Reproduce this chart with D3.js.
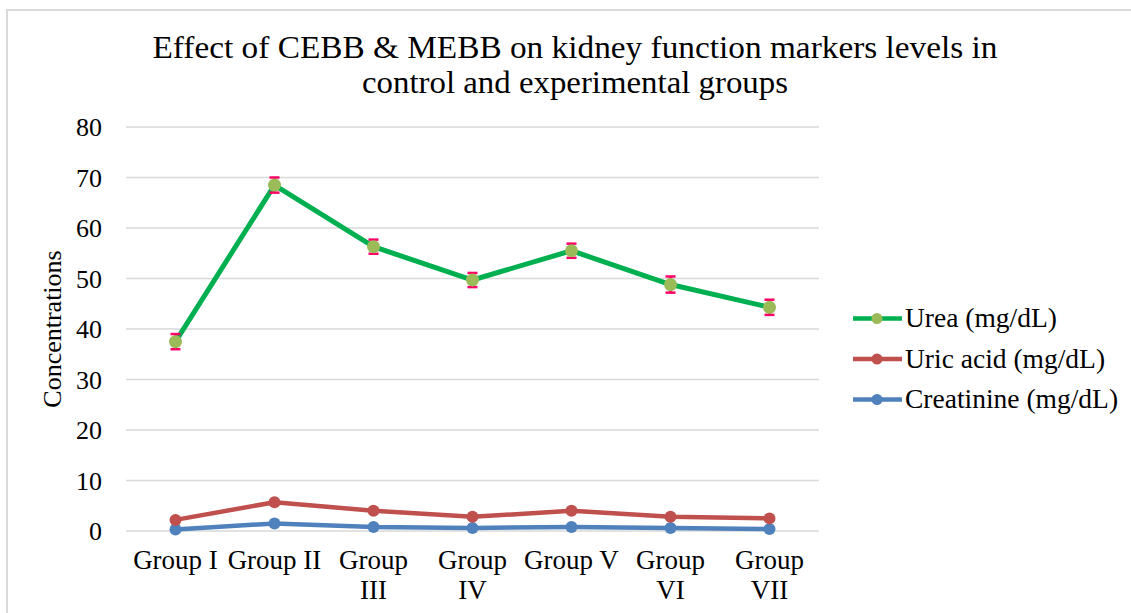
<!DOCTYPE html>
<html><head><meta charset="utf-8">
<script src="https://cdn.jsdelivr.net/npm/d3@7"></script>
<style>body{margin:0;background:#fff}svg{display:block}text{font-family:"Liberation Serif","Times New Roman",serif;fill:#000}</style>
</head><body><svg id="c" width="1131" height="613"></svg>
<script>
const categories = ["Group I","Group II","Group III","Group IV","Group V","Group VI","Group VII"];
const categoryLines = [["Group I"],["Group II"],["Group","III"],["Group","IV"],["Group V"],["Group","VI"],["Group","VII"]];
const urea = [37.5,68.5,56.3,49.7,55.5,48.8,44.3];
const ureaErr = [1.5,1.5,1.4,1.4,1.4,1.6,1.5];
const uricAcid = [2.2,5.7,4.0,2.8,4.0,2.8,2.5];
const creatinine = [0.3,1.5,0.8,0.6,0.8,0.6,0.4];
const yTicks = [0,10,20,30,40,50,60,70,80];
const seriesNames = ["Urea (mg/dL)","Uric acid (mg/dL)","Creatinine (mg/dL)"];

const svg = d3.select("#c");
// outer frame (only top and left visible)
svg.append("rect").attr("x",7).attr("y",10).attr("width",1200).attr("height",700)
  .attr("fill","none").attr("stroke","#D9D9D9").attr("stroke-width",2);

const x = d3.scaleBand().domain(categories).range([126,819]);
const y = d3.scaleLinear().domain([0,80]).range([531,127]);

// gridlines
svg.append("g").selectAll("line").data(yTicks).join("line")
  .attr("x1",126).attr("x2",819).attr("y1",d=>y(d)).attr("y2",d=>y(d))
  .attr("stroke","#D9D9D9").attr("stroke-width",1.5);

// y tick labels
svg.append("g").selectAll("text").data(yTicks).join("text")
  .attr("x",102).attr("y",d=>y(d)+9).attr("text-anchor","end")
  .style("font-size","26px").text(d=>d);

// y axis title
svg.append("text").attr("transform","translate(61,329) rotate(-90)")
  .attr("text-anchor","middle").style("font-size","26px").text("Concentrations");

// x labels
const xl = svg.append("g").selectAll("text").data(categories).join("text")
  .attr("text-anchor","middle").style("font-size","27px");
xl.each(function(d,i){
  const t = d3.select(this);
  categoryLines[i].forEach((ln,j)=>{
    t.append("tspan").attr("x",x(d)+x.bandwidth()/2).attr("y",569+j*30).text(ln);
  });
});

// title
svg.append("text").attr("x",575).attr("y",58).attr("text-anchor","middle")
  .style("font-size","31px").attr("textLength",845).attr("lengthAdjust","spacingAndGlyphs")
  .text("Effect of CEBB & MEBB on kidney function markers levels in");
svg.append("text").attr("x",575).attr("y",93).attr("text-anchor","middle")
  .style("font-size","31px").attr("textLength",426).attr("lengthAdjust","spacingAndGlyphs")
  .text("control and experimental groups");

const cx = d => x(d)+x.bandwidth()/2;
const line = d3.line().x((d,i)=>cx(categories[i])).y(d=>y(d));

const series = [
  {vals:creatinine, line:"#4F81BD", mk:"#4F81BD", w:4.5, r:6},
  {vals:uricAcid, line:"#C0504D", mk:"#C0504D", w:4.5, r:6},
  {vals:urea, line:"#00B050", mk:"#9BBB59", w:5, r:6.5},
];
series.forEach((s,si)=>{
  svg.append("path").datum(s.vals).attr("d",line).attr("fill","none")
    .attr("stroke",s.line).attr("stroke-width",s.w).attr("stroke-linejoin","round");
  if(s.vals===urea){
    const eg = svg.append("g").attr("stroke","#FF0066").attr("stroke-width",2.5);
    urea.forEach((v,i)=>{
      const X = cx(categories[i]);
      eg.append("line").attr("x1",X).attr("x2",X).attr("y1",y(v+ureaErr[i])).attr("y2",y(v-ureaErr[i]));
      eg.append("line").attr("x1",X-5).attr("x2",X+5).attr("y1",y(v+ureaErr[i])).attr("y2",y(v+ureaErr[i]));
      eg.append("line").attr("x1",X-5).attr("x2",X+5).attr("y1",y(v-ureaErr[i])).attr("y2",y(v-ureaErr[i]));
    });
  }
  svg.append("g").selectAll("circle").data(s.vals).join("circle")
    .attr("cx",(d,i)=>cx(categories[i])).attr("cy",d=>y(d)).attr("r",s.r).attr("fill",s.mk);
});

// legend
const leg = [
  {name:seriesNames[0], line:"#00B050", mk:"#9BBB59"},
  {name:seriesNames[1], line:"#C0504D", mk:"#C0504D"},
  {name:seriesNames[2], line:"#4F81BD", mk:"#4F81BD"},
];
const lg = svg.append("g");
leg.forEach((l,i)=>{
  const yy = 318.5 + i*40.5;
  lg.append("line").attr("x1",853).attr("x2",902).attr("y1",yy).attr("y2",yy)
    .attr("stroke",l.line).attr("stroke-width",4.5);
  lg.append("circle").attr("cx",877).attr("cy",yy).attr("r",5.5).attr("fill",l.mk);
  lg.append("text").attr("x",905).attr("y",yy+8.5).style("font-size","27.5px").text(l.name);
});
</script></body></html>
